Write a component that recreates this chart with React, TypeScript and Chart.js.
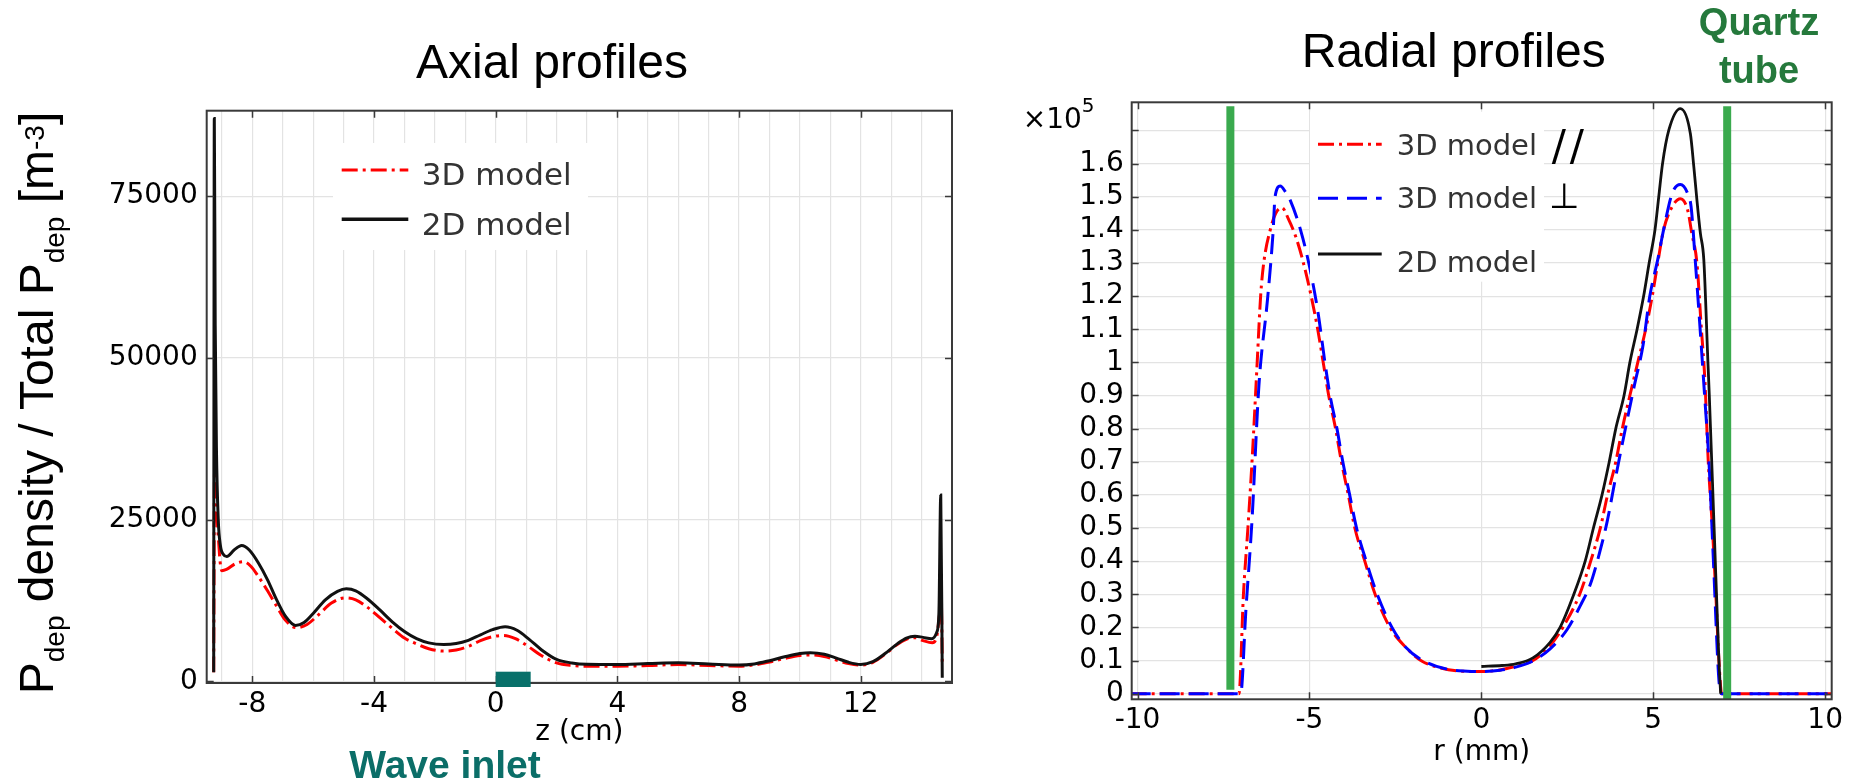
import React, { useEffect, useRef } from 'react';
import { Chart, registerables } from 'chart.js';

Chart.register(...registerables);

const SANS = '"DejaVu Sans", "Noto Sans", sans-serif';
const ARIAL = '"Liberation Sans", Arial, sans-serif';

// ---------------- Axial profiles (left) ----------------
const axialZ2D = [-9.27, -9.25, -9.22, -9.18, -9.12, -9.05, -8.95, -8.84, -8.6, -8.35, -8.1, -7.8, -7.5, -7.2, -6.9, -6.58, -6.3, -6.0, -5.6, -5.2, -4.91, -4.6, -4.2, -3.8, -3.4, -3.0, -2.6, -2.2, -1.71, -1.3, -0.9, -0.5, -0.1, 0.31, 0.7, 1.1, 1.5, 2.0, 2.5, 3.0, 3.97, 5.0, 6.0, 7.0, 8.0, 8.5, 9.0, 9.5, 10.0, 10.34, 10.8, 11.2, 11.6, 12.0, 12.4, 12.8, 13.2, 13.5, 13.78, 14.05, 14.33, 14.5, 14.57, 14.63, 14.68];
const axialP2D = [1400, 87000, 55000, 36000, 25000, 21000, 19600, 19300, 20300, 21000, 20300, 18300, 15700, 12600, 10000, 8650, 9100, 10500, 12600, 13900, 14300, 14000, 12700, 11000, 9200, 7700, 6600, 5950, 5700, 5850, 6350, 7200, 8000, 8440, 7900, 6500, 4900, 3400, 2850, 2650, 2620, 2750, 2880, 2700, 2520, 2700, 3200, 3800, 4300, 4430, 4200, 3600, 2950, 2620, 3050, 4300, 5800, 6700, 6990, 6800, 6590, 7600, 10600, 28800, 570];
const axialZ3D = [-9.27, -9.24, -9.18, -9.12, -9.06, -9.0, -8.85, -8.55, -8.29, -8.05, -7.8, -7.5, -7.2, -6.9, -6.55, -6.2, -5.8, -5.4, -4.96, -4.6, -4.2, -3.8, -3.4, -3.0, -2.6, -2.2, -1.71, -1.3, -0.9, -0.5, -0.1, 0.26, 0.65, 1.1, 1.5, 2.0, 2.5, 3.0, 4.0, 5.0, 6.0, 7.0, 8.0, 8.5, 9.0, 9.5, 10.0, 10.34, 10.8, 11.2, 11.6, 12.0, 12.4, 12.8, 13.2, 13.5, 13.8, 14.05, 14.35, 14.5, 14.6, 14.65, 14.68];
const axialP3D = [1400, 34000, 27000, 22500, 18500, 17100, 17300, 18200, 18500, 17800, 16200, 14000, 11600, 9400, 8300, 8800, 10400, 12100, 12900, 12600, 11400, 9800, 8200, 6700, 5800, 5050, 4680, 4850, 5400, 6300, 6900, 7100, 6600, 5300, 4000, 2850, 2450, 2350, 2350, 2450, 2600, 2450, 2350, 2550, 3000, 3550, 4000, 4080, 3850, 3300, 2750, 2500, 2950, 4200, 5700, 6500, 6740, 6300, 5970, 7000, 10700, 12000, 3000];
const axialZGrid = [-9, -8, -7, -6, -5, -4, -3, -2, -1, 0, 1, 2, 3, 4, 5, 6, 7, 8, 9, 10, 11, 12, 13, 14];
const axialZLabels = [-8, -4, 0, 4, 8, 12];
const axialYTicks = [0, 25000, 50000, 75000];
const waveInlet = [0, 1.15];

// ---------------- Radial profiles (right), values in units of 1e5 ----------------
const radialRPar = [-10.2, -7.05, -6.92, -6.79, -6.66, -6.52, -6.42, -6.33, -6.14, -5.98, -5.8, -5.6, -5.4, -5.2, -4.95, -4.76, -4.6, -4.44, -4.24, -4.07, -3.87, -3.68, -3.39, -3.09, -2.66, -2.2, -1.76, -1.2, -0.6, 0, 0.5, 1.0, 1.5, 2.0, 2.37, 2.86, 3.18, 3.46, 3.67, 3.91, 4.1, 4.32, 4.55, 4.78, 4.97, 5.13, 5.3, 5.55, 5.79, 6.0, 6.12, 6.27, 6.4, 6.5, 6.6, 6.72, 6.82, 6.91, 6.99, 10.2];
const radialPPar = [0, 0, 0.3, 0.5, 0.72, 1.0, 1.2, 1.3, 1.4, 1.45, 1.467, 1.43, 1.38, 1.31, 1.2, 1.1, 1.0, 0.9, 0.8, 0.7, 0.6, 0.5, 0.4, 0.3, 0.2, 0.14, 0.1, 0.078, 0.068, 0.067, 0.071, 0.083, 0.1, 0.145, 0.2, 0.3, 0.4, 0.5, 0.6, 0.7, 0.8, 0.9, 1.0, 1.1, 1.2, 1.3, 1.4, 1.47, 1.494, 1.46, 1.39, 1.3, 1.1, 0.95, 0.7, 0.5, 0.3, 0.1, 0, 0];
const radialRPerp = [-10.2, -7.0, -6.85, -6.67, -6.47, -6.22, -6.06, -6.0, -5.85, -5.7, -5.56, -5.26, -5.0, -4.75, -4.55, -4.4, -4.2, -4.03, -3.83, -3.63, -3.35, -3.03, -2.6, -2.2, -1.7, -1.0, -0.4, 0, 0.55, 1.0, 1.52, 2.0, 2.49, 2.9, 3.17, 3.45, 3.66, 3.9, 4.15, 4.45, 4.7, 4.9, 5.13, 5.3, 5.55, 5.79, 6.0, 6.1, 6.22, 6.35, 6.5, 6.62, 6.75, 6.91, 6.99, 10.2];
const radialPPerp = [0, 0, 0.25, 0.525, 0.93, 1.19, 1.39, 1.5, 1.532, 1.515, 1.49, 1.4, 1.29, 1.15, 1.0, 0.9, 0.8, 0.7, 0.6, 0.5, 0.4, 0.3, 0.2, 0.14, 0.1, 0.074, 0.068, 0.067, 0.071, 0.08, 0.1, 0.135, 0.193, 0.27, 0.33, 0.43, 0.52, 0.65, 0.78, 0.93, 1.05, 1.2, 1.31, 1.4, 1.51, 1.537, 1.51, 1.47, 1.31, 1.12, 0.89, 0.7, 0.4, 0.04, 0, 0];
const radialR2D = [0, 0.6, 1.0, 1.5, 2.0, 2.29, 2.69, 3.02, 3.26, 3.51, 3.72, 3.91, 4.15, 4.32, 4.53, 4.72, 4.88, 5.05, 5.16, 5.27, 5.45, 5.79, 6.08, 6.18, 6.27, 6.37, 6.47, 6.59, 6.63, 6.77, 6.91, 6.96];
const radialP2D = [0.082, 0.085, 0.09, 0.108, 0.155, 0.2, 0.3, 0.4, 0.5, 0.6, 0.7, 0.8, 0.9, 1.0, 1.1, 1.2, 1.3, 1.4, 1.5, 1.6, 1.7, 1.766, 1.69, 1.59, 1.49, 1.39, 1.31, 1.0, 0.9, 0.5, 0.1, 0];
const quartzLeftR = [-7.3, -7.3];
const quartzLeftP = [0.012, 1.773];
const quartzRightR = [7.15, 7.15];
const quartzRightP = [-0.017, 1.773];
const radialRTicks = [-10, -5, 0, 5, 10];
const radialPTicks = [0, 0.1, 0.2, 0.3, 0.4, 0.5, 0.6, 0.7, 0.8, 0.9, 1, 1.1, 1.2, 1.3, 1.4, 1.5, 1.6, 1.7];
const radialPLabelMax = 1.6;

const pts = (xs: number[], ys: number[]) => xs.map((x, i) => ({ x, y: ys[i] }));
const fixTicks = (values: number[]) => (s: any) => { s.ticks = values.map((v) => ({ value: v })); };

function drawFrame(chart: any, xTicks: number[], yTicks: number[]) {
  const ctx = chart.ctx;
  const a = chart.chartArea;
  const xs = chart.scales.x;
  const ys = chart.scales.y;
  ctx.save();
  ctx.strokeStyle = '#3a3a3a';
  ctx.lineWidth = 1.5;
  ctx.beginPath();
  xTicks.forEach((v) => {
    const px = Math.round(xs.getPixelForValue(v)) + 0.5;
    ctx.moveTo(px, a.top); ctx.lineTo(px, a.top + 7);
    ctx.moveTo(px, a.bottom); ctx.lineTo(px, a.bottom - 7);
  });
  yTicks.forEach((v) => {
    const py = Math.round(ys.getPixelForValue(v)) + 0.5;
    ctx.moveTo(a.left, py); ctx.lineTo(a.left + 7, py);
    ctx.moveTo(a.right, py); ctx.lineTo(a.right - 7, py);
  });
  ctx.stroke();
  ctx.lineWidth = 2;
  ctx.strokeRect(a.left, a.top, a.right - a.left, a.bottom - a.top);
  ctx.restore();
}

type Row = { label: string; color: string; dash: number[]; width: number; lineY: number; baseline: number };

function drawLegend(ctx: CanvasRenderingContext2D, box: number[], lineX: number[], textX: number, size: number, rows: Row[]) {
  ctx.save();
  ctx.fillStyle = '#ffffff';
  ctx.fillRect(box[0], box[1], box[2] - box[0], box[3] - box[1]);
  rows.forEach((r) => {
    ctx.setLineDash(r.dash);
    ctx.strokeStyle = r.color;
    ctx.lineWidth = r.width;
    ctx.beginPath();
    ctx.moveTo(lineX[0], r.lineY);
    ctx.lineTo(lineX[1], r.lineY);
    ctx.stroke();
    ctx.setLineDash([]);
    ctx.fillStyle = '#333333';
    ctx.font = `${size}px ${SANS}`;
    ctx.textAlign = 'left';
    ctx.textBaseline = 'alphabetic';
    ctx.fillText(r.label, textX, r.baseline);
  });
  ctx.restore();
}

type Part = { t: string; size: number; dy: number };

function drawRich(ctx: CanvasRenderingContext2D, parts: Part[], family: string) {
  let total = 0;
  const widths = parts.map((p) => {
    ctx.font = `${p.size}px ${family}`;
    const w = ctx.measureText(p.t).width;
    total += w;
    return w;
  });
  let x = -total / 2;
  ctx.textAlign = 'left';
  ctx.textBaseline = 'alphabetic';
  parts.forEach((p, i) => {
    ctx.font = `${p.size}px ${family}`;
    ctx.fillText(p.t, x, p.dy);
    x += widths[i];
  });
}

const yTitleParts: Part[] = [
  { t: 'P', size: 48, dy: 0 },
  { t: 'dep', size: 28, dy: 11 },
  { t: ' density / Total P', size: 48, dy: 0 },
  { t: 'dep', size: 28, dy: 11 },
  { t: ' [m', size: 48, dy: 0 },
  { t: '-3', size: 28, dy: -9 },
  { t: ']', size: 48, dy: 0 },
];

function axialConfig(): any {
  return {
    type: 'line',
    data: {
      datasets: [
        { label: '2D model', data: pts(axialZ2D, axialP2D), borderColor: '#111111', borderWidth: 3, pointRadius: 0, cubicInterpolationMode: 'monotone' },
        { label: '3D model', data: pts(axialZ3D, axialP3D), borderColor: '#ff0000', borderWidth: 3, borderDash: [16, 5, 3, 5], pointRadius: 0, cubicInterpolationMode: 'monotone' },
      ],
    },
    options: {
      responsive: false,
      animation: false,
      events: [],
      layout: { padding: { left: 0, top: 110.7, right: 28, bottom: 0 } },
      plugins: { legend: { display: false }, tooltip: { enabled: false }, title: { display: false } },
      scales: {
        x: {
          type: 'linear', min: -9.5, max: 15,
          afterBuildTicks: fixTicks(axialZGrid),
          afterFit: (s: any) => { s.height = 100; },
          border: { display: false },
          grid: { color: '#e3e3e3', lineWidth: 1.2, drawTicks: false },
          ticks: {
            autoSkip: false, maxRotation: 0, minRotation: 0, padding: 5,
            color: '#000', font: { family: SANS, size: 28 },
            callback: (v: number) => (axialZLabels.includes(v) ? String(v) : ''),
          },
          title: { display: true, text: 'z (cm)', color: '#000', font: { family: SANS, size: 28 }, padding: { top: 0, bottom: 33 } },
        },
        y: {
          type: 'linear', min: -250, max: 88200,
          afterBuildTicks: fixTicks(axialYTicks),
          afterFit: (s: any) => { s.width = 206.7; },
          border: { display: false },
          grid: { color: '#e3e3e3', lineWidth: 1.2, drawTicks: false },
          ticks: {
            autoSkip: false, padding: 9,
            color: '#000', font: { family: SANS, size: 28 },
            callback: (v: number) => String(v),
          },
        },
      },
    },
    plugins: [
      {
        id: 'axialOverlay',
        afterDraw(chart: any) {
          const ctx: CanvasRenderingContext2D = chart.ctx;
          const a = chart.chartArea;
          const xs = chart.scales.x;
          drawFrame(chart, axialZLabels, axialYTicks);
          drawLegend(ctx, [333, 143, 588, 250], [341.7, 408.3], 421.7, 31, [
            { label: '3D model', color: '#ff0000', dash: [16, 5, 3, 5], width: 3, lineY: 170, baseline: 185 },
            { label: '2D model', color: '#111111', dash: [], width: 3.5, lineY: 219.3, baseline: 235 },
          ]);
          ctx.save();
          const x0 = xs.getPixelForValue(waveInlet[0]);
          const x1 = xs.getPixelForValue(waveInlet[1]);
          ctx.fillStyle = '#08706a';
          ctx.fillRect(x0, a.bottom - 11.3, x1 - x0, 15.3);
          ctx.fillStyle = '#000';
          ctx.font = `48px ${ARIAL}`;
          ctx.textAlign = 'center';
          ctx.textBaseline = 'alphabetic';
          ctx.fillText('Axial profiles', 552, 78.3);
          ctx.fillStyle = '#0b6e68';
          ctx.font = `bold 39px ${ARIAL}`;
          ctx.fillText('Wave inlet', 445, 778);
          ctx.fillStyle = '#000';
          ctx.translate(53, 403);
          ctx.rotate(-Math.PI / 2);
          drawRich(ctx, yTitleParts, ARIAL);
          ctx.restore();
        },
      },
    ],
  };
}

function radialConfig(): any {
  return {
    type: 'line',
    data: {
      datasets: [
        { label: 'Quartz tube L', data: pts(quartzLeftR, quartzLeftP), borderColor: '#3aaa4e', borderWidth: 8, pointRadius: 0 },
        { label: 'Quartz tube R', data: pts(quartzRightR, quartzRightP), borderColor: '#3aaa4e', borderWidth: 8, pointRadius: 0 },
        { label: '2D model', data: pts(radialR2D, radialP2D), borderColor: '#111111', borderWidth: 2.8, pointRadius: 0, cubicInterpolationMode: 'monotone' },
        { label: '3D model perp', data: pts(radialRPerp, radialPPerp), borderColor: '#0000ff', borderWidth: 3, borderDash: [20, 9], pointRadius: 0, cubicInterpolationMode: 'monotone' },
        { label: '3D model par', data: pts(radialRPar, radialPPar), borderColor: '#ff0000', borderWidth: 3, borderDash: [16, 5, 3, 5], pointRadius: 0, cubicInterpolationMode: 'monotone' },
      ],
    },
    options: {
      responsive: false,
      animation: false,
      events: [],
      layout: { padding: { left: 0, top: 102.3, right: 22.3, bottom: 0 } },
      plugins: { legend: { display: false }, tooltip: { enabled: false }, title: { display: false } },
      scales: {
        x: {
          type: 'linear', min: -10.17, max: 10.19,
          afterBuildTicks: fixTicks(radialRTicks),
          afterFit: (s: any) => { s.height = 83.7; },
          border: { display: false },
          grid: { color: '#e3e3e3', lineWidth: 1.2, drawTicks: false },
          ticks: {
            autoSkip: false, maxRotation: 0, minRotation: 0, padding: 5,
            color: '#000', font: { family: SANS, size: 28 },
            callback: (v: number) => String(v),
          },
          title: { display: true, text: 'r (mm)', color: '#000', font: { family: SANS, size: 28 }, padding: { top: 0, bottom: 13 } },
        },
        y: {
          type: 'linear', min: -0.017, max: 1.785,
          afterBuildTicks: fixTicks(radialPTicks),
          afterFit: (s: any) => { s.width = 151.7; },
          border: { display: false },
          grid: { color: '#e3e3e3', lineWidth: 1.2, drawTicks: false },
          ticks: {
            autoSkip: false, padding: 8,
            color: '#000', font: { family: SANS, size: 28 },
            callback: (v: number) => (v <= radialPLabelMax + 0.01 ? String(Math.round(v * 10) / 10) : ''),
          },
        },
      },
    },
    plugins: [
      {
        id: 'radialOverlay',
        afterDraw(chart: any) {
          const ctx: CanvasRenderingContext2D = chart.ctx;
          drawFrame(chart, radialRTicks, radialPTicks);
          drawLegend(ctx, [330, 111.7, 564, 281.7], [338, 401.7], 416.7, 29, [
            { label: '3D model', color: '#ff0000', dash: [16, 5, 3, 5], width: 3, lineY: 144.3, baseline: 155 },
            { label: '3D model', color: '#0000ff', dash: [20, 9], width: 3, lineY: 198.3, baseline: 208.3 },
            { label: '2D model', color: '#111111', dash: [], width: 3, lineY: 254, baseline: 271.7 },
          ]);
          ctx.save();
          ctx.fillStyle = '#000';
          ctx.textBaseline = 'alphabetic';
          ctx.textAlign = 'left';
          ctx.font = `42px ${SANS}`;
          (ctx as any).letterSpacing = '4px';
          ctx.fillText('//', 571.7, 160);
          (ctx as any).letterSpacing = '0px';
          ctx.font = `35px ${SANS}`;
          ctx.fillText('\u22A5', 569, 208.3);
          // x10^5
          ctx.font = `28px ${SANS}`;
          ctx.fillText('\u00D710', 42.7, 128.3);
          const w = ctx.measureText('\u00D710').width;
          ctx.font = `20px ${SANS}`;
          ctx.fillText('5', 42.7 + w, 112);
          // titles
          ctx.textAlign = 'center';
          ctx.font = `48px ${ARIAL}`;
          ctx.fillText('Radial profiles', 473.7, 66.7);
          ctx.fillStyle = '#25793c';
          ctx.font = `bold 38px ${ARIAL}`;
          ctx.fillText('Quartz', 779, 35);
          ctx.fillText('tube', 779, 83);
          ctx.restore();
        },
      },
    ],
  };
}

function ChartBox({ make, left, top, width, height }: { make: () => any; left: number; top: number; width: number; height: number }) {
  const ref = useRef<HTMLCanvasElement>(null);
  useEffect(() => {
    const chart = new Chart(ref.current as HTMLCanvasElement, make());
    return () => chart.destroy();
  }, []);
  return (
    <div style={{ position: 'absolute', left, top, width, height }}>
      <canvas ref={ref} width={width} height={height} style={{ display: 'block', width, height }} />
    </div>
  );
}

export default function App() {
  return (
    <div style={{ position: 'absolute', left: 0, top: 0, width: 1854, height: 783, background: '#fff', overflow: 'hidden' }}>
      <ChartBox make={axialConfig} left={0} top={0} width={980} height={783} />
      <ChartBox make={radialConfig} left={980} top={0} width={874} height={783} />
    </div>
  );
}
